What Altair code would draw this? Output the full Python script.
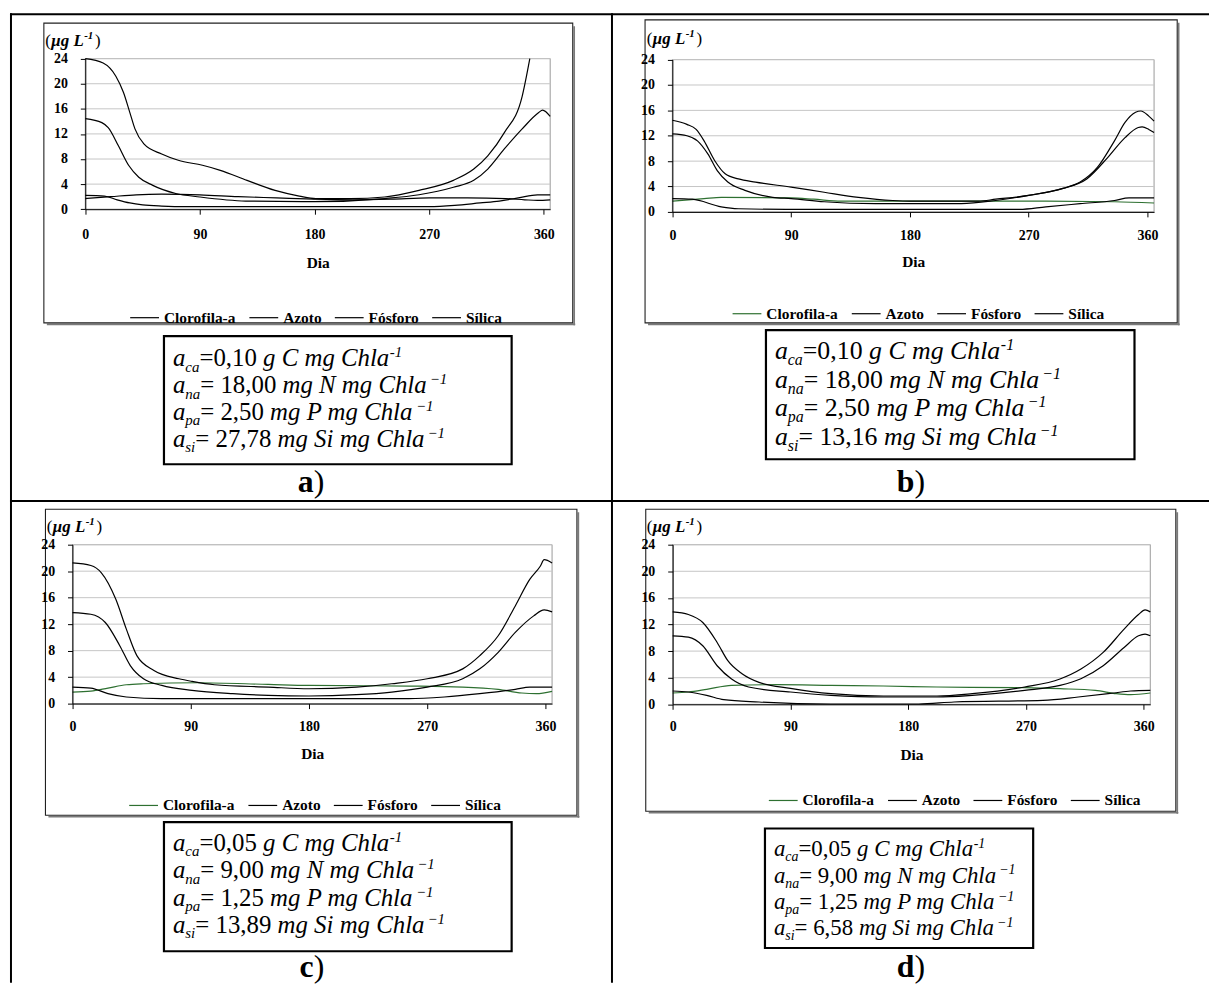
import altair as alt
import pandas as pd

SERIF = "Liberation Serif"
SERIES = ["Clorofila-a", "Azoto", "Fósforo", "Sílica"]
GREEN = "#2e7031"

# ---------------- data ----------------
# panel a
a_clo_d = [0, 20, 40, 60, 90, 120, 150, 180, 210, 240, 270, 300, 330, 345, 355, 365]
a_clo_v = [1.7, 2.0, 2.3, 2.4, 2.3, 2.0, 1.8, 1.6, 1.5, 1.6, 1.8, 1.8, 1.7, 1.5, 1.4, 1.5]
a_azo_d = [0, 13, 18, 26, 34, 42, 53, 71, 90, 126, 180, 235, 262, 289, 305, 316, 329, 343, 356, 359, 365]
a_azo_v = [14.45, 13.8, 13.0, 10.1, 7.0, 5.1, 3.8, 2.5, 1.95, 1.3, 1.2, 1.7, 2.3, 3.5, 4.6, 6.4, 9.6, 12.8, 15.4, 15.8, 14.8]
a_fos_d = [0, 15, 25, 35, 45, 60, 80, 270, 290, 310, 325, 340, 355, 365]
a_fos_v = [2.2, 2.1, 1.5, 1.0, 0.7, 0.5, 0.4, 0.4, 0.6, 1.0, 1.3, 1.8, 2.3, 2.3]
a_sil_d = [0, 14, 24, 30, 35, 39, 46, 60, 73, 92, 106, 127, 149, 168, 181, 208, 235, 262, 289, 305, 316, 329, 343, 349]
a_sil_v = [24.0, 23.3, 21.2, 18.6, 15.4, 12.8, 10.4, 8.8, 7.8, 7.0, 6.2, 4.6, 3.0, 2.1, 1.7, 1.7, 1.95, 3.0, 4.6, 6.4, 8.5, 12.2, 18.0, 24.0]

# panel b
b_clo_d = [0, 24, 37, 90, 107, 128, 180, 232, 283, 335, 365]
b_clo_v = [1.7, 2.1, 2.3, 2.2, 2.0, 1.7, 1.7, 1.7, 1.7, 1.6, 1.4]
b_azo_d = [0, 11, 18, 24, 32, 40, 50, 63, 90, 115, 141, 167, 180, 232, 245, 270, 296, 309, 322, 335, 343, 351, 355, 361, 365]
b_azo_v = [14.45, 13.8, 13.0, 11.2, 8.1, 6.0, 5.2, 4.7, 3.9, 3.1, 2.3, 1.8, 1.7, 1.7, 2.0, 2.6, 3.7, 4.7, 7.0, 11.2, 14.1, 15.7, 15.9, 15.1, 14.3]
b_fos_d = [0, 15, 37, 50, 86, 263, 283, 309, 335, 346, 365]
b_fos_v = [2.1, 2.0, 0.8, 0.5, 0.4, 0.4, 0.8, 1.3, 1.8, 2.2, 2.2]
b_sil_d = [0, 11, 19, 27, 34, 42, 55, 76, 90, 115, 154, 219, 245, 270, 296, 314, 330, 343, 353, 356, 361, 365]
b_sil_v = [12.3, 12.0, 11.2, 9.1, 6.5, 4.7, 3.4, 2.3, 2.1, 1.6, 1.3, 1.3, 1.8, 2.6, 3.7, 5.2, 8.6, 11.7, 13.3, 13.4, 13.0, 12.5]

# panel c
c_clo_d = [0, 14, 27, 41, 54, 95, 149, 180, 256, 297, 324, 342, 353, 365]
c_clo_v = [1.75, 1.9, 2.35, 2.85, 3.0, 3.15, 2.9, 2.75, 2.65, 2.5, 2.15, 1.6, 1.5, 1.85]
c_azo_d = [0, 14, 25, 36, 44, 54, 68, 91, 122, 149, 180, 216, 243, 270, 297, 310, 324, 337, 351, 359, 365]
c_azo_v = [13.75, 13.5, 12.25, 8.75, 5.75, 3.75, 2.75, 2.0, 1.5, 1.25, 1.15, 1.35, 1.75, 2.5, 3.75, 5.25, 7.75, 10.75, 13.25, 14.15, 13.85]
c_fos_d = [0, 14, 27, 41, 68, 256, 283, 310, 337, 348, 365]
c_fos_v = [2.5, 2.35, 1.5, 1.0, 0.75, 0.75, 1.0, 1.5, 2.15, 2.5, 2.5]
c_sil_d = [0, 14, 22, 33, 41, 49, 62, 81, 91, 108, 149, 180, 216, 243, 270, 297, 310, 324, 337, 348, 356, 359, 365]
c_sil_v = [21.25, 20.85, 19.75, 15.75, 11.25, 7.25, 5.0, 3.75, 3.35, 2.85, 2.5, 2.25, 2.5, 3.0, 3.75, 5.25, 7.25, 10.25, 14.75, 18.75, 20.75, 21.75, 21.25]

# panel d
d_clo_d = [0, 12, 26, 45, 80, 121, 161, 202, 269, 296, 323, 339, 350, 365]
d_clo_v = [1.7, 1.85, 2.25, 2.85, 2.95, 2.85, 2.75, 2.6, 2.5, 2.35, 2.1, 1.6, 1.45, 1.7]
d_azo_d = [0, 12, 23, 34, 45, 58, 90, 121, 161, 202, 229, 269, 296, 312, 329, 345, 356, 361, 365]
d_azo_v = [10.3, 10.1, 8.8, 5.8, 3.8, 2.6, 1.85, 1.35, 1.1, 1.1, 1.35, 2.1, 2.85, 3.85, 5.8, 8.55, 10.3, 10.55, 10.3]
d_fos_d = [0, 12, 26, 39, 66, 121, 188, 215, 283, 310, 337, 350, 365]
d_fos_v = [2.0, 1.85, 1.35, 0.7, 0.35, 0.05, 0.05, 0.35, 0.6, 1.1, 1.7, 2.0, 2.1]
d_sil_d = [0, 12, 23, 34, 42, 53, 66, 90, 121, 161, 202, 229, 269, 296, 312, 329, 345, 356, 361, 365]
d_sil_v = [13.9, 13.5, 12.3, 9.3, 6.6, 4.6, 3.3, 2.4, 1.6, 1.25, 1.25, 1.6, 2.6, 3.8, 5.3, 7.8, 11.3, 13.5, 14.2, 13.9]

X_TICKS = [0, 90, 180, 270, 360]
Y_TICKS = [0, 4, 8, 12, 16, 20, 24]
X_MAX = 365
Y_MAX = 24

# parameter text of each panel: (subscript, value text, unit text, superscript)
a_params = [("ca", "=0,10 ", "g C mg Chla", "-1"), ("na", "= 18,00 ", "mg N mg Chla", "\u22121"),
            ("pa", "= 2,50 ", "mg P mg Chla", "\u22121"), ("si", "= 27,78 ", "mg Si mg Chla", "\u22121")]
b_params = [("ca", "=0,10 ", "g C mg Chla", "-1"), ("na", "= 18,00 ", "mg N mg Chla", "\u22121"),
            ("pa", "= 2,50 ", "mg P mg Chla", "\u22121"), ("si", "= 13,16 ", "mg Si mg Chla", "\u22121")]
c_params = [("ca", "=0,05 ", "g C mg Chla", "-1"), ("na", "= 9,00 ", "mg N mg Chla", "\u22121"),
            ("pa", "= 1,25 ", "mg P mg Chla", "\u22121"), ("si", "= 13,89 ", "mg Si mg Chla", "\u22121")]
d_params = [("ca", "=0,05 ", "g C mg Chla", "-1"), ("na", "= 9,00 ", "mg N mg Chla", "\u22121"),
            ("pa", "= 1,25 ", "mg P mg Chla", "\u22121"), ("si", "= 6,58 ", "mg Si mg Chla", "\u22121")]


def frame_of(clo_d, clo_v, azo_d, azo_v, fos_d, fos_v, sil_d, sil_v):
    rows = []
    for name, ds, vs in [("Clorofila-a", clo_d, clo_v), ("Azoto", azo_d, azo_v),
                         ("Fósforo", fos_d, fos_v), ("Sílica", sil_d, sil_v)]:
        for d, v in zip(ds, vs):
            rows.append({"Dia": d, "valor": v, "serie": name})
    return pd.DataFrame(rows)


# ---------------- page geometry ----------------
M = 8            # page margin; view coordinates = page coordinates - M
VW, VH = 1209, 978


def V(v):
    return v - M


REG = {' ': 250, ',': 250, '=': 564, '(': 333, ')': 333, '-': 333, '\u2212': 564}
for ch in "0123456789":
    REG[ch] = 500
ITA = {'a': 500, 'c': 444, 'n': 500, 'p': 500, 's': 389, 'i': 278, 'g': 500, 'm': 722, 'C': 667,
       'N': 667, 'P': 611, 'S': 500, 'h': 500, 'l': 278, ' ': 250, '-': 333, '\u2212': 675, '1': 500}


def tw(s, table, size):
    return sum(table.get(ch, 500) for ch in s) * size / 1000.0


ONE = pd.DataFrame({"k": [0]})


def txt(X, Y, s, size, style="normal", weight="normal", align="left"):
    return alt.Chart(ONE).mark_text(
        text=s, font=SERIF, fontSize=size, fontStyle=style, fontWeight=weight,
        align=align, baseline="alphabetic", color="black"
    ).encode(x=alt.value(V(X)), y=alt.value(V(Y)))


def rect(x0, y0, x1, y1, stroke="black", sw=1.0):
    return alt.Chart(ONE).mark_rect(stroke=stroke, strokeWidth=sw, fillOpacity=0).encode(
        x=alt.value(V(x0)), x2=alt.value(V(x1)), y=alt.value(V(y0)), y2=alt.value(V(y1)))


def hrule(x0, x1, y, sw=2, color="black"):
    return alt.Chart(ONE).mark_rule(color=color, strokeWidth=sw).encode(
        x=alt.value(V(x0)), x2=alt.value(V(x1)), y=alt.value(V(y)))


def vrule(x, y0, y1, sw=2, color="black"):
    return alt.Chart(ONE).mark_rule(color=color, strokeWidth=sw).encode(
        x=alt.value(V(x)), y=alt.value(V(y0)), y2=alt.value(V(y1)))


def panel(df, colors, g):
    x0, x1 = g["px"]
    yt, yb = g["py"]
    xs = alt.Scale(domain=[0, X_MAX], range=[V(x0), V(x1)], nice=False, zero=False)
    ys = alt.Scale(domain=[0, Y_MAX], range=[V(yb), V(yt)], nice=False, zero=False)
    xaxis = alt.Axis(orient="bottom", offset=V(yb) - VH, values=X_TICKS, title="Dia", grid=False,
                     domainColor="black", tickColor="black", tickSize=5, zindex=1,
                     labelFont=SERIF, labelFontWeight="bold", labelFontSize=14, labelColor="black",
                     labelBaseline="middle", labelPadding=g["xlab"] - 5, labelFlush=False,
                     titleFont=SERIF, titleFontWeight="bold", titleFontSize=15.5, titleColor="black",
                     titleBaseline="middle", titleY=g["xtit"])
    yaxis = alt.Axis(orient="left", offset=-V(x0), values=Y_TICKS, title=None, grid=False,
                     domainColor="black", tickColor="black", tickSize=5, zindex=1,
                     labelFont=SERIF, labelFontWeight="bold", labelFontSize=14, labelColor="black",
                     labelPadding=13, labelBaseline="middle")

    border = alt.Chart(pd.DataFrame({"a": [0], "b": [X_MAX], "c": [0], "d": [Y_MAX]})).mark_rect(
        fillOpacity=0, stroke="#9a9a9a", strokeWidth=1
    ).encode(x=alt.X("a:Q", scale=xs, axis=xaxis), x2="b:Q",
             y=alt.Y("c:Q", scale=ys, axis=yaxis), y2="d:Q")

    grid = alt.Chart(pd.DataFrame({"g": Y_TICKS[1:], "a": 0, "b": X_MAX})).mark_rule(
        color="#c6c6c6", strokeWidth=1
    ).encode(x=alt.X("a:Q", scale=xs, axis=xaxis), x2="b:Q", y=alt.Y("g:Q", scale=ys, axis=yaxis))

    lx, ly = g["legend"]
    lines = alt.Chart(df).mark_line(strokeWidth=1.2, interpolate="monotone").encode(
        x=alt.X("Dia:Q", scale=xs, axis=xaxis),
        y=alt.Y("valor:Q", scale=ys, axis=yaxis),
        color=alt.Color("serie:N", scale=alt.Scale(domain=SERIES, range=colors),
                        legend=alt.Legend(orient="none", legendX=V(lx), legendY=V(ly) - 8,
                                          direction="horizontal", title=None, symbolType="stroke",
                                          symbolSize=841, symbolStrokeWidth=1.2,
                                          labelFont=SERIF, labelFontWeight="bold",
                                          labelFontSize=15.5, labelColor="black", labelOffset=4,
                                          columnPadding=10, padding=0, labelLimit=0)),
    )
    return alt.layer(border, grid, lines)


def decorations(g, params, letter):
    layers = []
    # chart area frame with a light shadow
    fx0, fy0, fx1, fy1 = g["frame"]
    layers.append(vrule(fx1 + 1.5, fy0 + 3, fy1 + 2.5, sw=1.6, color="#7a7a7a"))
    layers.append(hrule(fx0 + 3, fx1 + 2.5, fy1 + 1.5, sw=1.6, color="#7a7a7a"))
    layers.append(rect(fx0, fy0, fx1, fy1, stroke="#202020", sw=1.1))

    # unit label (μg L^-1)
    tx, ty = g["ytitle"]
    fs = 17
    layers.append(txt(tx, ty, "(", fs))
    x = tx + tw("(", REG, fs) + 0.5
    layers.append(txt(x, ty, "\u03bcg L", fs, style="italic", weight="bold"))
    x += 33
    layers.append(txt(x, ty - 7, "-1", 11, style="italic", weight="bold"))
    x += 11
    layers.append(txt(x, ty, ")", fs))

    # parameter box
    bx0, by0, bx1, by1 = g["box"]
    layers.append(rect(bx0, by0, bx1, by1, stroke="black", sw=2.2))
    big = g["font"]
    small = round(big * 0.6)
    first, lh = g["lines"]
    for i, (sub, val, unit, sup) in enumerate(params):
        base_y = by0 + first + i * lh
        x = bx0 + 9
        layers.append(txt(x, base_y, "a", big, style="italic"))
        x += tw("a", ITA, big)
        layers.append(txt(x, base_y + big * 0.22, sub, small, style="italic"))
        x += tw(sub, ITA, small)
        layers.append(txt(x, base_y, val, big))
        x += tw(val, REG, big)
        layers.append(txt(x, base_y, unit, big, style="italic"))
        x += tw(unit, ITA, big) + (0.5 if sup == "-1" else 3)
        layers.append(txt(x, base_y - big * 0.36, sup, small, style="italic"))

    # panel letter, centred in the table cell
    lbx, lby = g["label"]
    lf = 32
    split = lbx - (0.5 + 0.333) * lf / 2 + (0.556 if letter in "bd" else 0.5) * lf
    layers.append(txt(split, lby, letter, lf, weight="bold", align="right"))
    layers.append(txt(split, lby, ")", lf, align="left"))
    return layers


GEO_A = {"px": (85.8, 553.8), "py": (55.7, 207.3), "xlab": 25.4, "xtit": 53.4,
         "frame": (44.1, 20, 576.5, 321.7), "legend": (130, 309), "ytitle": (45.5, 43),
         "box": (165, 335, 515, 464), "font": 25, "lines": (30.5, 27), "label": (313, 492)}
GEO_B = {"px": (676.8, 1161.7), "py": (56.7, 210), "xlab": 23.3, "xtit": 50,
         "frame": (649.3, 16.7, 1185, 321.7), "legend": (736.4, 305), "ytitle": (651, 40.5),
         "box": (771, 329, 1142, 459), "font": 26, "lines": (29.5, 28.7), "label": (916, 492)}
GEO_C = {"px": (72.9, 555.7), "py": (545, 705), "xlab": 23.3, "xtit": 50,
         "frame": (45.7, 509.3, 580.7, 817.3), "legend": (129, 800), "ytitle": (47, 532),
         "box": (165, 824.3, 515, 954.3), "font": 25, "lines": (29, 27.5), "label": (313, 980)}
GEO_D = {"px": (677.1, 1157.9), "py": (545, 705.7), "xlab": 22.3, "xtit": 51,
         "frame": (650, 509.3, 1183.6, 813.3), "legend": (772.9, 795), "ytitle": (651, 532),
         "box": (770, 830.7, 1040, 951), "font": 23, "lines": (28, 26.5), "label": (916, 980)}

df_a = frame_of(a_clo_d, a_clo_v, a_azo_d, a_azo_v, a_fos_d, a_fos_v, a_sil_d, a_sil_v)
df_b = frame_of(b_clo_d, b_clo_v, b_azo_d, b_azo_v, b_fos_d, b_fos_v, b_sil_d, b_sil_v)
df_c = frame_of(c_clo_d, c_clo_v, c_azo_d, c_azo_v, c_fos_d, c_fos_v, c_sil_d, c_sil_v)
df_d = frame_of(d_clo_d, d_clo_v, d_azo_d, d_azo_v, d_fos_d, d_fos_v, d_sil_d, d_sil_v)

BLACKS = ["black", "black", "black", "black"]
GREENS = [GREEN, "black", "black", "black"]

layers = [
    panel(df_a, BLACKS, GEO_A),
    panel(df_b, GREENS, GEO_B),
    panel(df_c, GREENS, GEO_C),
    panel(df_d, GREENS, GEO_D),
]
# table borders
layers += [hrule(10, 1217, 11), hrule(10, 1217, 501), vrule(11, 10, 986), vrule(616, 10, 986)]
layers += decorations(GEO_A, a_params, "a")
layers += decorations(GEO_B, b_params, "b")
layers += decorations(GEO_C, c_params, "c")
layers += decorations(GEO_D, d_params, "d")

chart = alt.layer(*layers).resolve_scale(
    x="independent", y="independent", color="independent"
).resolve_axis(x="independent", y="independent").resolve_legend(color="independent").properties(
    width=VW, height=VH, padding=0, background="white",
    autosize=alt.AutoSizeParams(type="none", contains="padding"),
).configure_view(strokeWidth=0)

chart.save("out.html", embed_options={"renderer": "svg", "actions": False})
